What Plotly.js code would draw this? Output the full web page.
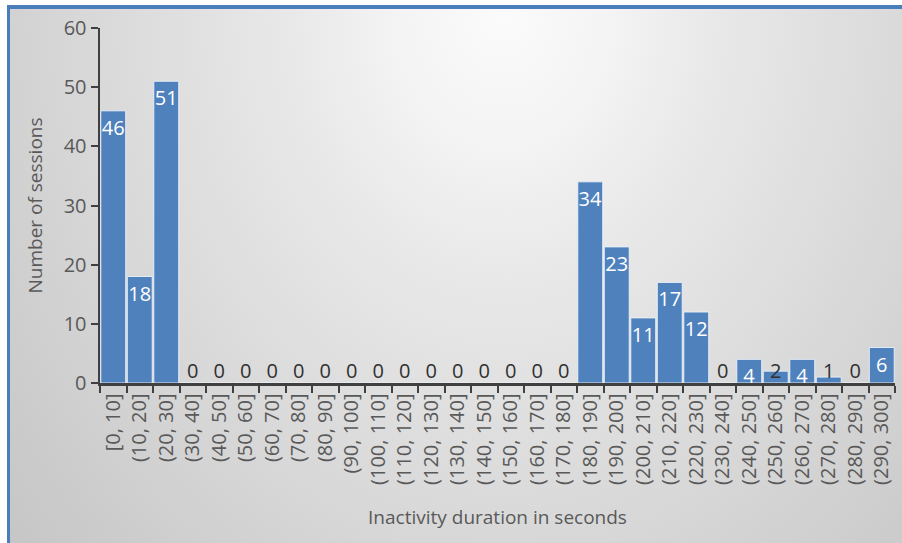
<!DOCTYPE html>
<html>
<head>
<meta charset="utf-8">
<script src="https://cdn.plot.ly/plotly-3.0.1.min.js"></script>
<style>
  html, body { margin: 0; padding: 0; background: #ffffff; overflow: hidden; width: 902px; height: 543px; }
  #frame {
    position: absolute; left: 7px; top: 5px; width: 1000px; height: 700px;
    border-left: 3px solid #4a7ebb; border-top: 4px solid #4a7ebb;
    background: radial-gradient(ellipse 520px 650px at 493px 0px,
      #fbfbfb 0%, #f4f4f4 20%, #e9e9e9 40%, #d0d0d0 100%, #c4c4c4 130%);
  }
  #chart { position: absolute; left: 0; top: 0; width: 902px; height: 543px; }
</style>
</head>
<body>
<div id="frame"></div>
<div id="chart"></div>
<script>
// Inactivity duration bins (seconds)
const bins = [
  "[0, 10]", "(10, 20]", "(20, 30]", "(30, 40]", "(40, 50]", "(50, 60]",
  "(60, 70]", "(70, 80]", "(80, 90]", "(90, 100]", "(100, 110]", "(110, 120]",
  "(120, 130]", "(130, 140]", "(140, 150]", "(150, 160]", "(160, 170]", "(170, 180]",
  "(180, 190]", "(190, 200]", "(200, 210]", "(210, 220]", "(220, 230]", "(230, 240]",
  "(240, 250]", "(250, 260]", "(260, 270]", "(270, 280]", "(280, 290]", "(290, 300]"
];
// Number of sessions per bin
const sessions = [
  46, 18, 51, 0, 0, 0, 0, 0, 0, 0, 0, 0, 0, 0, 0, 0, 0, 0,
  34, 23, 11, 17, 12, 0, 4, 2, 4, 1, 0, 6
];
const yTicks = [0, 10, 20, 30, 40, 50, 60];

// bars tall enough get their count inside; short ones get it at the baseline
const minInside = 4;
const insideText = sessions.map(v => v >= minInside ? String(v) : "");
const smallBins = bins.filter((b, i) => sessions[i] < minInside);
const smallVals = sessions.filter(v => v < minInside);

const FONT = "'Open Sans', 'Noto Sans', sans-serif";
const AXIS = "#404040";
const LABEL = "#595959";

const traces = [
  {
    type: "bar",
    x: bins,
    y: sessions,
    text: insideText,
    textposition: "inside",
    insidetextanchor: "end",
    constraintext: "none",
    textangle: 0,
    insidetextfont: { family: FONT, size: 20, color: "#ffffff" },
    marker: { color: "#4f81bd", line: { color: "rgba(235,242,250,0.9)", width: 1 } },
    hoverinfo: "x+y"
  },
  {
    type: "scatter",
    mode: "text",
    x: smallBins,
    y: smallBins.map(() => 0),
    text: smallVals.map(String),
    textposition: "top center",
    textfont: { family: FONT, size: 20, color: "#303030" },
    hoverinfo: "skip",
    cliponaxis: false
  }
];

const layout = {
  width: 902,
  height: 543,
  paper_bgcolor: "rgba(0,0,0,0)",
  plot_bgcolor: "rgba(0,0,0,0)",
  margin: { l: 100, r: 7, t: 28, b: 160 },
  showlegend: false,
  bargap: 0.06,
  font: { family: FONT, color: LABEL },
  xaxis: {
    type: "category",
    tickangle: -90,
    tickson: "boundaries",
    ticks: "outside",
    ticklen: 7,
    tickwidth: 2,
    tickcolor: AXIS,
    showline: true,
    linecolor: AXIS,
    linewidth: 2.5,
    showgrid: false,
    zeroline: false,
    tickfont: { family: FONT, size: 20, color: LABEL },
    title: { text: "Inactivity duration in seconds", font: { family: FONT, size: 19, color: LABEL }, standoff: 27 }
  },
  yaxis: {
    range: [0, 60],
    tickvals: yTicks,
    ticks: "outside",
    ticklen: 7,
    tickwidth: 2,
    tickcolor: AXIS,
    showline: true,
    linecolor: AXIS,
    linewidth: 2.5,
    showgrid: false,
    zeroline: false,
    tickfont: { family: FONT, size: 20, color: LABEL },
    title: { text: "Number of sessions", font: { family: FONT, size: 19, color: LABEL }, standoff: 16 }
  }
};

Plotly.newPlot("chart", traces, layout, { displayModeBar: false, staticPlot: true });
</script>
</body>
</html>
